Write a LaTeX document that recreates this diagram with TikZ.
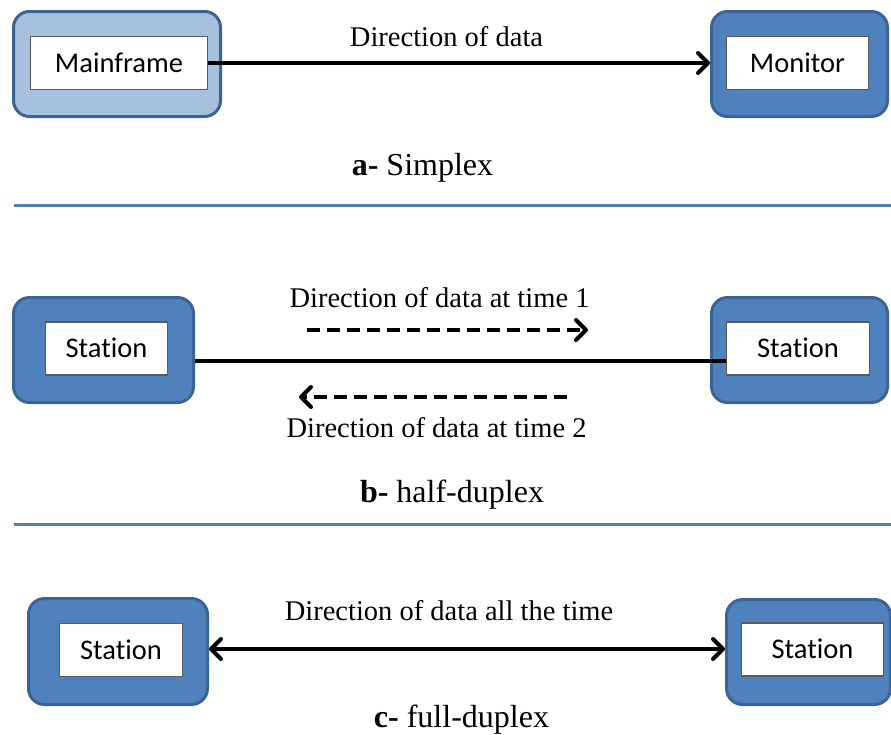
\documentclass[tikz,border=0pt]{standalone}
\usepackage{fontspec}
\setmainfont{Liberation Serif}
\newfontfamily\calibri[Ligatures={NoCommon}]{Carlito}
\usetikzlibrary{arrows.meta}
\definecolor{boxblue}{HTML}{4F81BD}
\definecolor{boxedge}{HTML}{3A6494}
\definecolor{lightblue}{HTML}{A7C0DE}
\definecolor{sepblue}{HTML}{4F81BD}
\definecolor{inneredge}{HTML}{5A5A5A}
\newcommand{\stationtext}{Stat\kern0pt ion}
\begin{document}
\begin{tikzpicture}[x=1pt,y=-1pt,
  outerbox/.style={draw=boxedge, fill=boxblue, line width=3pt, rounded corners=16pt,
    minimum width=#1, minimum height=105pt, inner sep=0pt},
  innerbox/.style={draw=inneredge, fill=white, line width=1.3pt, minimum height=53pt,
    inner sep=0pt, font=\calibri\fontsize{28.5}{30}\selectfont, text height=18.4pt, text depth=0pt},
  lbl/.style={inner sep=0pt, anchor=base, font=\fontsize{28.5}{30}\selectfont},
  caption/.style={inner sep=0pt, anchor=base, font=\fontsize{32}{34}\selectfont},
  conn/.style={draw=black, line width=4pt},
  tipped/.style={conn, -{Straight Barb[length=10pt,width=20pt,round]}},
  dtipped/.style={conn, {Straight Barb[length=10pt,width=20pt,round]}-{Straight Barb[length=10pt,width=20pt,round]}},
  dashedarrow/.style={conn, dash pattern=on 13pt off 7pt, -{Straight Barb[length=10pt,width=20pt,round]}},
  sepline/.style={draw=sepblue, line width=3pt}
]
\useasboundingbox (0,0) rectangle (891,734);

% ---------- a- Simplex ----------
\node[outerbox=207pt, fill=lightblue] (mf) at (117,64) {};
\node[innerbox, minimum width=177pt] (mfin) at (119,63) {Mainframe};
\node[outerbox=176pt] (mon) at (799.5,64) {};
\node[innerbox, minimum width=142pt] (monin) at (797.5,63) {Monitor};
\draw[tipped] (mfin.east) -- ([yshift=1pt]mon.west);
\node[lbl] (ta) at (446.5,46) {Direction of data};
\node[caption] (ca) at (422.5,175) {\textbf{a-} Simplex};

\coordinate (s1a) at (14,205);
\coordinate (s1b) at (891,205);
\draw[sepline] (s1a) -- (s1b);

% ---------- b- half-duplex ----------
\node[outerbox=180pt] (sL) at (103.5,350) {};
\node[innerbox, minimum width=122pt] (sLin) at (106.5,348.5) {\stationtext};
\node[outerbox=176pt] (sR) at (799.5,350) {};
\node[innerbox, minimum width=143pt] (sRin) at (798,348.5) {\stationtext};
\draw[conn, line width=3.4pt] ([yshift=-11pt]sL.east) -- ([yshift=-12.5pt]sRin.west);
\coordinate (d1s) at (307,330);
\coordinate (d1e) at (588,330);
\coordinate (d2s) at (567,397);
\coordinate (d2e) at (299,397);
\draw[dashedarrow] (d1s) -- (d1e);
\draw[dashedarrow] (d2s) -- (d2e);
\node[lbl] (tb1) at (439.5,307) {Direction of data at time 1};
\node[lbl] (tb2) at (436.5,437) {Direction of data at time 2};
\node[caption] (cb) at (452,502) {\textbf{b-} half-duplex};

\coordinate (s2a) at (14,524);
\coordinate (s2b) at (891,524);
\draw[sepline] (s2a) -- (s2b);

% ---------- c- full-duplex ----------
\node[outerbox=179pt, minimum height=106pt] (bL) at (118,651.5) {};
\node[innerbox, minimum width=123pt] (bLin) at (121,650) {\stationtext};
\node[outerbox=164pt] (bR) at (808.5,652) {};
\node[innerbox, minimum width=142pt] (bRin) at (812.5,649.5) {\stationtext};
\draw[dtipped] ([yshift=2.5pt]bL.east) -- ([yshift=3pt]bR.west);
\node[lbl] (tc) at (449,620) {Direction of data all the time};
\node[caption] (cc) at (461.5,727) {\textbf{c-} full-duplex};
\end{tikzpicture}
\end{document}
